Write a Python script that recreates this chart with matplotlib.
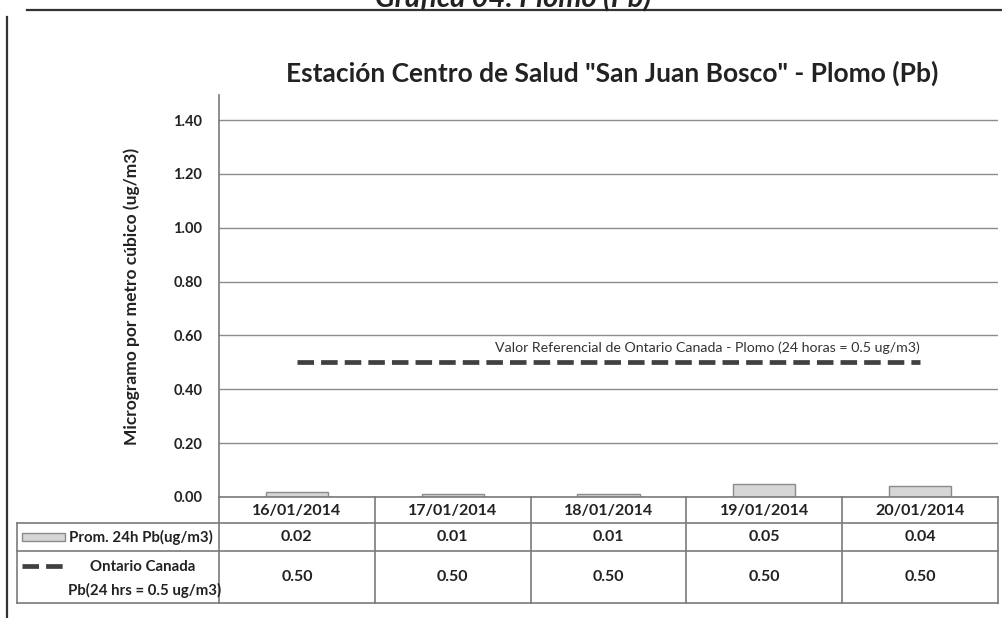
import numpy as np
import matplotlib.pyplot as plt
from matplotlib.patches import Rectangle
from matplotlib.lines import Line2D

plt.rcParams["font.family"] = ["Lato", "DejaVu Sans"]

dates = ["16/01/2014", "17/01/2014", "18/01/2014", "19/01/2014", "20/01/2014"]
prom_pb = [0.02, 0.01, 0.01, 0.05, 0.04]
ontario_limit = [0.50, 0.50, 0.50, 0.50, 0.50]
yticks = [0.00, 0.20, 0.40, 0.60, 0.80, 1.00, 1.20, 1.40]

title = 'Estación Centro de Salud "San Juan Bosco" - Plomo (Pb)'
ref_label = "Valor Referencial de Ontario Canada - Plomo (24 horas = 0.5 ug/m3)"
ylabel = "Microgramo por metro cúbico (ug/m3)"
row1_label = "Prom. 24h Pb(ug/m3)"
row2_top = "Ontario Canada"
row2_bottom = "Pb(24 hrs = 0.5 ug/m3)"

W, H = 1002, 618
GRID = "#8c8c8c"
LINE = "#7a7a7a"
TXT = "#222222"


def fx(px):
    return px / W


def fy(py):
    return 1 - py / H


def main():
    fig = plt.figure(figsize=(W / 100, H / 100), dpi=100)
    fig.patch.set_facecolor("white")

    left, right, top, bottom = 219, 998, 95, 497
    ax = fig.add_axes([fx(left), fy(bottom), fx(right - left), fy(top) - fy(bottom)])

    x = np.arange(len(dates))
    ax.set_xlim(-0.5, len(dates) - 0.5)
    ax.set_ylim(0, 1.493)

    ax.bar(x, prom_pb, width=0.4, color="#d6d6d6", edgecolor="#8a8a8a", linewidth=1.0, zorder=3)
    ax.plot(x, ontario_limit, color="#404040", lw=3.4, dashes=(3.5, 1.5), zorder=4)
    ax.annotate(ref_label, xy=(x[-1], ontario_limit[-1]), xytext=(0, 6), textcoords="offset points",
                ha="right", va="bottom", fontsize=10.2, color="#333333")

    ax.set_yticks(yticks)
    ax.set_yticklabels([f"{v:.2f}" for v in yticks], fontsize=10.5, fontweight="bold", color=TXT)
    ax.tick_params(axis="y", length=0, pad=12)
    ax.set_xticks([])
    ax.yaxis.grid(True, color=GRID, lw=1.0)
    ax.set_axisbelow(True)
    for s in ["top", "right", "bottom"]:
        ax.spines[s].set_visible(False)
    ax.spines["left"].set_color(LINE)
    ax.spines["left"].set_linewidth(1.2)
    ax.set_ylabel(ylabel, fontsize=12.5, fontweight="bold", color=TXT, labelpad=24)

    # title and cut header above
    fig.text(fx(612), fy(73), title, ha="center", va="center", fontsize=19, fontweight="bold", color=TXT)
    fig.text(fx(513), fy(7), "Gráfica 04: Plomo (Pb)", ha="center", va="baseline", fontsize=21,
             fontweight="bold", fontstyle="italic", color=TXT)

    # outer frame
    fig.add_artist(Line2D([fx(27), fx(1002)], [fy(10), fy(10)], color="#333333", lw=1.6))
    fig.add_artist(Line2D([fx(7), fx(7)], [fy(17), fy(618)], color="#333333", lw=1.6))

    # data table below the axis
    col_edges = np.linspace(left, right, len(dates) + 1)
    centers = (col_edges[:-1] + col_edges[1:]) / 2
    r0, r1, r2, r3 = bottom, 523, 551, 603
    tl = 17

    def hline(y, x0, x1):
        fig.add_artist(Line2D([fx(x0), fx(x1)], [fy(y), fy(y)], color=LINE, lw=1.2))

    def vline(xp, y0, y1):
        fig.add_artist(Line2D([fx(xp), fx(xp)], [fy(y0), fy(y1)], color=LINE, lw=1.2))

    hline(r0, left, right)
    for y in (r1, r2, r3):
        hline(y, tl, right)
    for xe in col_edges:
        vline(xe, r0, r3)
    vline(tl, r1, r3)

    for c, d, p, o in zip(centers, dates, prom_pb, ontario_limit):
        fig.text(fx(c), fy((r0 + r1) / 2 + 1), d, ha="center", va="center", fontsize=11.5,
                 fontweight="bold", color=TXT)
        fig.text(fx(c), fy((r1 + r2) / 2), f"{p:.2f}", ha="center", va="center", fontsize=11.5,
                 fontweight="bold", color=TXT)
        fig.text(fx(c), fy((r2 + r3) / 2), f"{o:.2f}", ha="center", va="center", fontsize=11.5,
                 fontweight="bold", color=TXT)

    # legend keys in the table
    fig.add_artist(Rectangle((fx(22), fy(541)), fx(43), fy(533) - fy(541), facecolor="#d6d6d6",
                             edgecolor="#8a8a8a", lw=1.0))
    fig.text(fx(69), fy((r1 + r2) / 2), row1_label, ha="left", va="center", fontsize=10.8,
             fontweight="bold", color=TXT)
    fig.add_artist(Line2D([fx(22), fx(63)], [fy(566), fy(566)], color="#404040", lw=3.4, dashes=(3.5, 1.5)))
    fig.text(fx(143), fy(567), row2_top, ha="center", va="center", fontsize=10.8,
             fontweight="bold", color=TXT)
    fig.text(fx(68), fy(590), row2_bottom, ha="left", va="center", fontsize=10.8,
             fontweight="bold", color=TXT)

    fig.savefig("out.png", dpi=100)
    plt.close(fig)


if __name__ == "__main__":
    main()
